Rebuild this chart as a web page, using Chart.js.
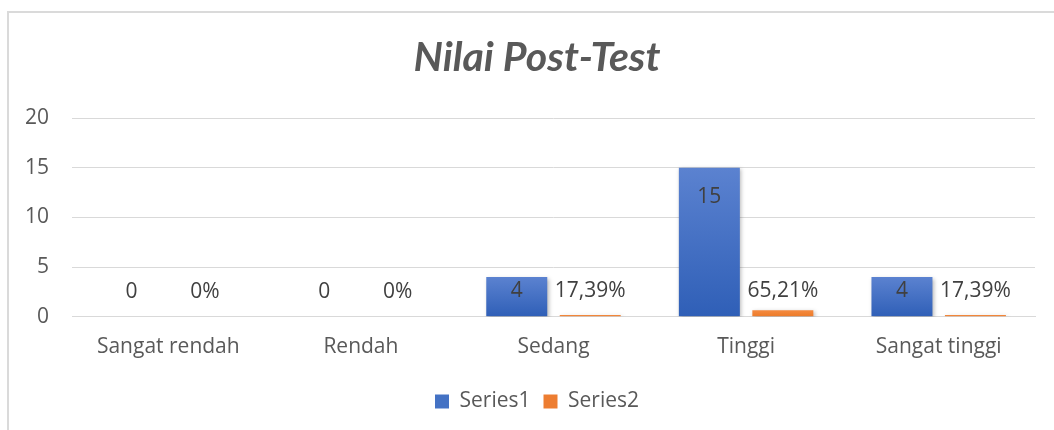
<!DOCTYPE html>
<html>
<head>
<meta charset="utf-8">
<script src="https://cdn.jsdelivr.net/npm/chart.js@4/dist/chart.umd.min.js"></script>
<style>
  html, body { margin: 0; padding: 0; background: #fff; }
  #wrap { position: relative; width: 1054px; height: 430px; overflow: hidden; }
  #frame { position: absolute; left: 7px; top: 11px; width: 1100px; height: 500px; border: 2px solid #dadada; box-sizing: border-box; }
  #chart { position: absolute; left: 0; top: 0; }
</style>
</head>
<body>
<div id="wrap">
  <div id="frame"></div>
  <canvas id="chart" width="1054" height="430"></canvas>
</div>
<script>
const categories = ['Sangat rendah', 'Rendah', 'Sedang', 'Tinggi', 'Sangat tinggi'];
const series1 = [0, 0, 4, 15, 4];
const series2 = [0, 0, 0.1739, 0.6521, 0.1739];
const yTicks = [0, 5, 10, 15, 20];

const textFont = 'Open Sans';
const textSize = 21;

// gradient per bar, from its top down to the baseline
function barGradient(top, bottom) {
  return function (c) {
    const chart = c.chart;
    const y = chart.scales.y;
    if (!y || c.raw === undefined) return bottom;
    const y0 = y.getPixelForValue(c.raw);
    const y1 = y.getPixelForValue(0);
    if (y1 - y0 < 1) return bottom;
    const g = chart.ctx.createLinearGradient(0, y0, 0, y1);
    g.addColorStop(0, top);
    g.addColorStop(1, bottom);
    return g;
  };
}

function pctLabel(v) {
  if (v === 0) return '0%';
  return (v * 100).toFixed(2).replace('.', ',') + '%';
}

const shadowPlugin = {
  id: 'barShadow',
  beforeDatasetsDraw(chart) {
    const ctx = chart.ctx;
    ctx.save();
    ctx.shadowColor = 'rgba(0,0,0,0.28)';
    ctx.shadowBlur = 4;
    ctx.shadowOffsetX = 1.5;
    ctx.shadowOffsetY = 1.5;
  },
  afterDatasetsDraw(chart) {
    chart.ctx.restore();
  }
};

const valueLabels = {
  id: 'valueLabels',
  afterDatasetsDraw(chart) {
    const ctx = chart.ctx;
    ctx.save();
    ctx.font = textSize + 'px "' + textFont + '"';
    ctx.fillStyle = '#404040';
    ctx.textAlign = 'center';
    ctx.textBaseline = 'middle';
    chart.data.datasets.forEach((ds, di) => {
      const meta = chart.getDatasetMeta(di);
      meta.data.forEach((bar, i) => {
        const base = bar.base;
        let y, txt;
        if (di === 0) {
          y = Math.min(bar.y + 29, base - 25);
          txt = String(ds.data[i]);
        } else {
          y = Math.min(bar.y - 17, base - 25);
          txt = pctLabel(ds.data[i]);
        }
        ctx.fillText(txt, bar.x, y);
      });
    });
    ctx.restore();
  }
};

new Chart(document.getElementById('chart'), {
  type: 'bar',
  data: {
    labels: categories,
    datasets: [
      {
        label: 'Series1',
        data: series1,
        backgroundColor: barGradient('#5b82d0', '#2f5fb7'),
        borderWidth: 0,
        categoryPercentage: 0.763,
        barPercentage: 0.83
      },
      {
        label: 'Series2',
        data: series2,
        backgroundColor: barGradient('#f48a40', '#ec7a28'),
        borderWidth: 0,
        categoryPercentage: 0.763,
        barPercentage: 0.83
      }
    ]
  },
  options: {
    responsive: false,
    animation: false,
    layout: { padding: { left: 20, right: 0, top: 0, bottom: 8 } },
    plugins: {
      title: {
        display: true,
        text: 'Nilai Post-Test',
        color: '#595959',
        font: { family: 'Lato', size: 41, weight: 'bold', style: 'italic' },
        padding: { top: 33, bottom: 36 }
      },
      legend: {
        position: 'bottom',
        labels: {
          color: '#595959',
          font: { family: textFont, size: textSize },
          boxWidth: 14,
          boxHeight: 14,
          padding: 13,
          generateLabels(chart) {
            const cols = ['#4472c4', '#ed7d31'];
            return chart.data.datasets.map((ds, i) => ({
              text: ds.label,
              fillStyle: cols[i],
              strokeStyle: cols[i],
              lineWidth: 0,
              hidden: false,
              datasetIndex: i,
              fontColor: '#595959'
            }));
          }
        }
      },
      tooltip: { enabled: false }
    },
    scales: {
      x: {
        grid: { display: false, drawTicks: false },
        border: { display: true, color: '#d9d9d9', width: 1 },
        ticks: { color: '#595959', font: { family: textFont, size: textSize }, padding: 18 }
      },
      y: {
        min: 0,
        max: 20,
        afterFit(scale) { scale.width = 52; },
        afterBuildTicks(scale) { scale.ticks = yTicks.map(v => ({ value: v })); },
        grid: { color: '#d9d9d9', lineWidth: 1, drawTicks: false },
        border: { display: false },
        ticks: { color: '#595959', font: { family: textFont, size: textSize }, padding: 23 }
      },
      // empty right-hand spacer so the plot stops where the original does
      spacer: {
        type: 'linear',
        position: 'right',
        afterFit(scale) { scale.width = 19; },
        grid: { display: false, drawTicks: false },
        border: { display: false },
        ticks: { display: false }
      }
    }
  },
  plugins: [shadowPlugin, valueLabels]
});
</script>
</body>
</html>
